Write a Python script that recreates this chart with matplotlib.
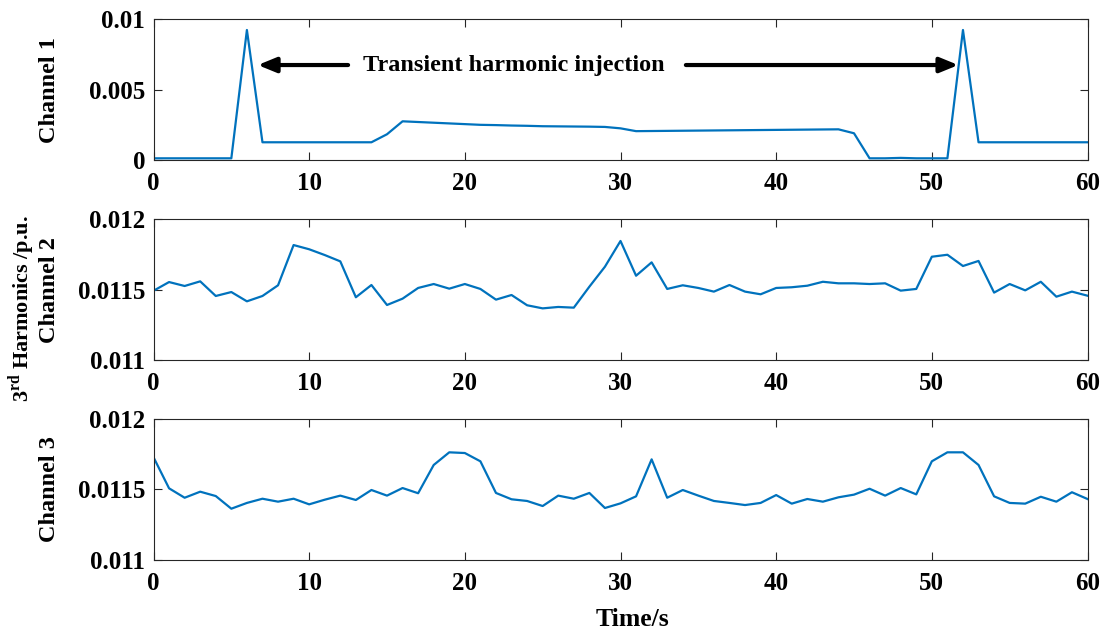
import matplotlib
matplotlib.use("Agg")
import matplotlib.pyplot as plt
import numpy as np

plt.rcParams['font.family'] = ['Liberation Serif', 'DejaVu Serif']
plt.rcParams['font.weight'] = 'bold'
plt.rcParams['mathtext.fontset'] = 'custom'
plt.rcParams['mathtext.rm'] = 'Liberation Serif:bold'
plt.rcParams['mathtext.bf'] = 'Liberation Serif:bold'

time = list(range(61))

ch1 = [0.00012, 0.00012, 0.00012, 0.00012, 0.00012, 0.00012, 0.00924, 0.00126, 0.00126, 0.00126,
       0.00126, 0.00126, 0.00126, 0.00126, 0.00126, 0.00183, 0.00275, 0.00270, 0.00265, 0.00260,
       0.00255, 0.00250, 0.00248, 0.00245, 0.00243, 0.00240, 0.00239, 0.00238, 0.00237, 0.00235,
       0.00225, 0.00205, 0.00206, 0.00207, 0.00208, 0.00209, 0.00210, 0.00211, 0.00212, 0.00213,
       0.00214, 0.00215, 0.00216, 0.00217, 0.00218, 0.00190, 0.00012, 0.00012, 0.00015, 0.00012,
       0.00012, 0.00012, 0.00924, 0.00126, 0.00126, 0.00126, 0.00126, 0.00126, 0.00126, 0.00126,
       0.00126]

ch2 = [0.011492, 0.011554, 0.011526, 0.011559, 0.011455, 0.011483, 0.011417, 0.011455, 0.011531, 0.011817,
       0.011787, 0.011746, 0.011701, 0.011446, 0.011533, 0.011391, 0.011436, 0.011512, 0.011540, 0.011507,
       0.011540, 0.011505, 0.011429, 0.011462, 0.011389, 0.011367, 0.011377, 0.011372, 0.011521, 0.011663,
       0.011846, 0.011599, 0.011694, 0.011505, 0.011531, 0.011512, 0.011486, 0.011533, 0.011486, 0.011467,
       0.011512, 0.011517, 0.011528, 0.011556, 0.011545, 0.011545, 0.011540, 0.011545, 0.011493, 0.011505,
       0.011734, 0.011748, 0.011668, 0.011704, 0.011479, 0.011540, 0.011495, 0.011556, 0.011450, 0.011486,
       0.011457]

ch3 = [0.011728, 0.011507, 0.011440, 0.011483, 0.011452, 0.011362, 0.011403, 0.011433, 0.011412, 0.011433,
       0.011393, 0.011426, 0.011455, 0.011424, 0.011495, 0.011455, 0.011509, 0.011472, 0.011673, 0.011763,
       0.011758, 0.011699, 0.011474, 0.011429, 0.011417, 0.011381, 0.011455, 0.011433, 0.011474, 0.011367,
       0.011400, 0.011450, 0.011713, 0.011440, 0.011495, 0.011455, 0.011417, 0.011403, 0.011388, 0.011403,
       0.011459, 0.011398, 0.011431, 0.011412, 0.011443, 0.011462, 0.011504, 0.011455, 0.011509, 0.011464,
       0.011699, 0.011763, 0.011763, 0.011673, 0.011450, 0.011403, 0.011398, 0.011447, 0.011412, 0.011479,
       0.011431]

xticks = [0, 10, 20, 30, 40, 50, 60]
yticks1 = [0, 0.005, 0.01]
ylabels1 = ['0', '0.005', '0.01']
yticks23 = [0.011, 0.0115, 0.012]
ylabels23 = ['0.011', '0.0115', '0.012']
channel_names = ['Channel 1', 'Channel 2', 'Channel 3']

W, H = 1111, 631
fig = plt.figure(figsize=(W / 100, H / 100), dpi=100)

left = 153.5 / W
width = (1087.5 - 153.5) / W
rows = [(19.3, 160.0), (219.3, 360.0), (419.0, 559.6)]
axes = []
for top, bot in rows:
    ax = fig.add_axes([left, 1 - bot / H, width, (bot - top) / H])
    axes.append(ax)

color = '#0072BD'
data = [ch1, ch2, ch3]
for i, ax in enumerate(axes):
    ax.plot(time, data[i], color=color, lw=1.6)
    ax.set_xlim(0, 60)
    ax.set_xticks(xticks)
    ax.set_xticklabels([str(t) for t in xticks])
    if i == 0:
        ax.set_ylim(0, 0.01)
        ax.set_yticks(yticks1)
        ax.set_yticklabels(ylabels1)
    else:
        ax.set_ylim(0.011, 0.012)
        ax.set_yticks(yticks23)
        ax.set_yticklabels(ylabels23)
    ax.tick_params(direction='in', top=True, right=True, length=6, width=0.8,
                   labelsize=18, pad=6, colors='#262626', labelcolor='black')
    ax.tick_params(axis='x', pad=9)
    for lab in ax.get_xticklabels() + ax.get_yticklabels():
        lab.set_fontweight('bold')
    for s in ax.spines.values():
        s.set_color('#262626')
        s.set_linewidth(0.8)
    ax.set_ylabel(channel_names[i], fontsize=17.5, fontweight='bold')

for ax in axes:
    ax.yaxis.set_label_coords(-0.1, 0.5)

ax1 = axes[0]
ax1.annotate('', xy=(6.7, 0.00675), xytext=(12.5, 0.00675),
             arrowprops=dict(arrowstyle='-|>,head_length=1.1,head_width=0.45', color='black', lw=3.0,
                             shrinkA=0, shrinkB=0))
ax1.annotate('', xy=(51.7, 0.00675), xytext=(34.2, 0.00675),
             arrowprops=dict(arrowstyle='-|>,head_length=1.1,head_width=0.45', color='black', lw=3.0,
                             shrinkA=0, shrinkB=0))
ax1.text(23.15, 0.00675, 'Transient harmonic injection', ha='center', va='center',
         fontsize=17.5, fontweight='bold')

fig.text(632.5 / W, 1 - 620 / H, 'Time/s', ha='center', va='center', fontsize=18.5, fontweight='bold')

fig.text(22 / W, 1 - 309 / H, r'3$^{\mathrm{rd}}$ Harmonics /p.u.', rotation=90, ha='center', va='center',
         fontsize=16, fontweight='bold')

fig.savefig('out.png', dpi=100)
